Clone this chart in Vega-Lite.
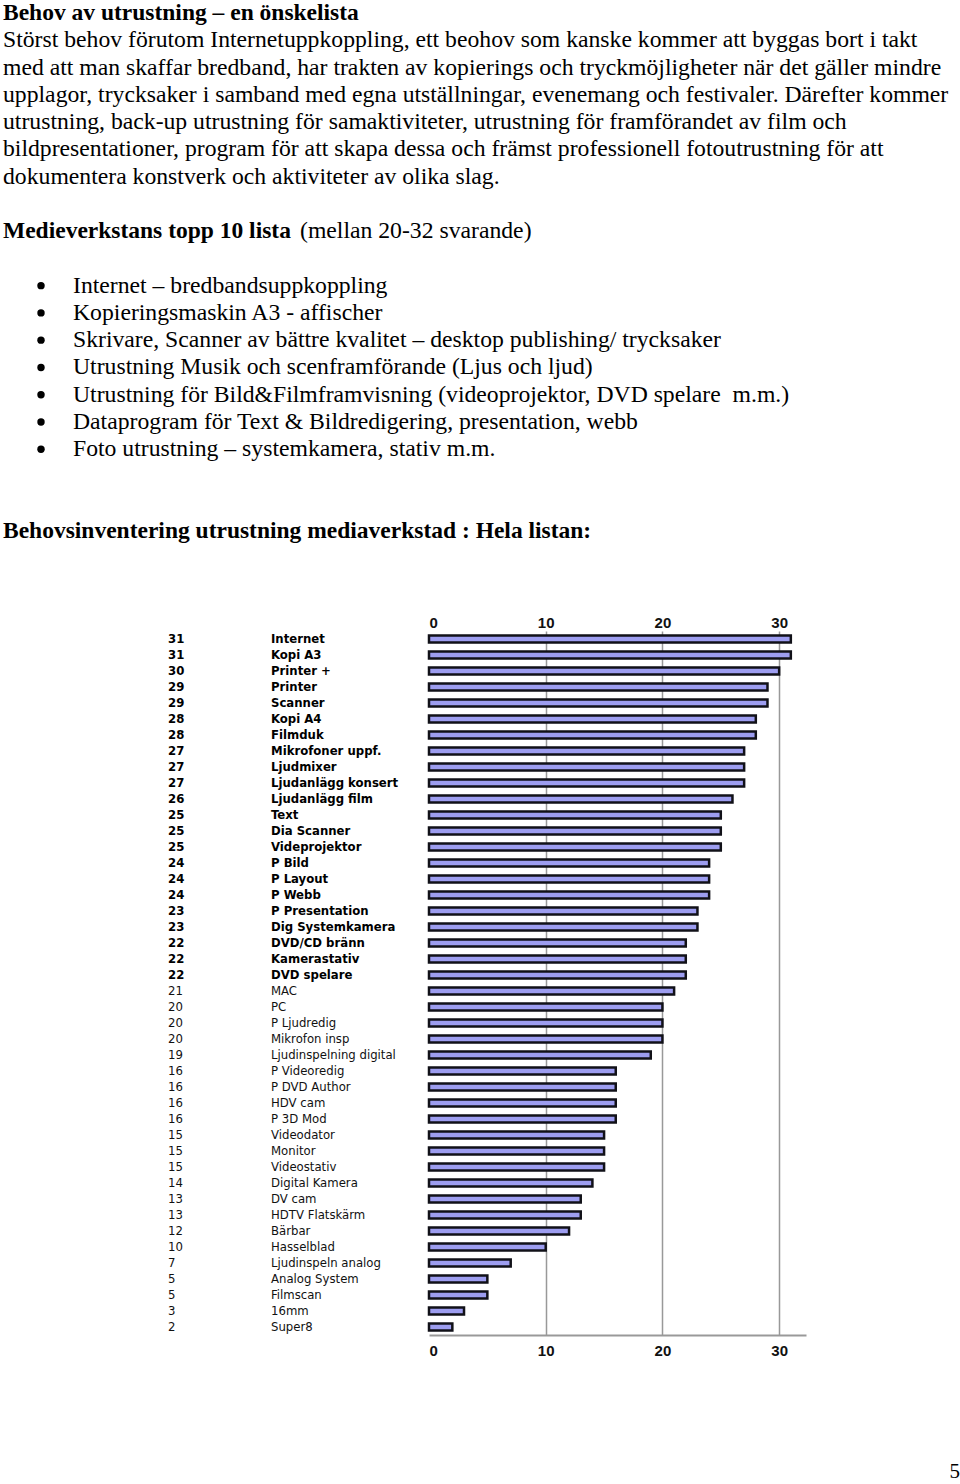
{
  "$schema": "https://vega.github.io/schema/vega-lite/v6.json",
  "background": "white",
  "padding": 0,
  "config": {"view": {"stroke": null}},
  "datasets": {
    "doc": [
      {"line": 0, "col": 0, "kind": "heading", "text": "Behov av utrustning – en önskelista"},
      {"line": 1, "col": 0, "kind": "body", "text": "Störst behov förutom Internetuppkoppling, ett beohov som kanske kommer att byggas bort i takt"},
      {"line": 2, "col": 0, "kind": "body", "text": "med att man skaffar bredband, har trakten av kopierings och tryckmöjligheter när det gäller mindre"},
      {"line": 3, "col": 0, "kind": "body", "text": "upplagor, trycksaker i samband med egna utställningar, evenemang och festivaler. Därefter kommer"},
      {"line": 4, "col": 0, "kind": "body", "text": "utrustning, back-up utrustning för samaktiviteter, utrustning för framförandet av film och"},
      {"line": 5, "col": 0, "kind": "body", "text": "bildpresentationer, program för att skapa dessa och främst professionell fotoutrustning för att"},
      {"line": 6, "col": 0, "kind": "body", "text": "dokumentera konstverk och aktiviteter av olika slag."},
      {"line": 8, "col": 0, "kind": "heading", "text": "Medieverkstans topp 10 lista"},
      {"line": 8, "col": 3, "kind": "body", "text": "(mellan 20-32 svarande)"},
      {"line": 10, "col": 2, "kind": "bullet", "text": "Internet – bredbandsuppkoppling"},
      {"line": 11, "col": 2, "kind": "bullet", "text": "Kopieringsmaskin A3 - affischer"},
      {"line": 12, "col": 2, "kind": "bullet", "text": "Skrivare, Scanner av bättre kvalitet – desktop publishing/ trycksaker"},
      {"line": 13, "col": 2, "kind": "bullet", "text": "Utrustning Musik och scenframförande (Ljus och ljud)"},
      {"line": 14, "col": 2, "kind": "bullet", "text": "Utrustning för Bild&Filmframvisning (videoprojektor, DVD spelare\u00a0 m.m.)"},
      {"line": 15, "col": 2, "kind": "bullet", "text": "Dataprogram för Text & Bildredigering, presentation, webb"},
      {"line": 16, "col": 2, "kind": "bullet", "text": "Foto utrustning – systemkamera, stativ m.m."},
      {"line": 19, "col": 0, "kind": "heading", "text": "Behovsinventering utrustning mediaverkstad : Hela listan:"}
    ],
    "items": [
      {"item": "Internet", "count": 31},
      {"item": "Kopi A3", "count": 31},
      {"item": "Printer +", "count": 30},
      {"item": "Printer", "count": 29},
      {"item": "Scanner", "count": 29},
      {"item": "Kopi A4", "count": 28},
      {"item": "Filmduk", "count": 28},
      {"item": "Mikrofoner uppf.", "count": 27},
      {"item": "Ljudmixer", "count": 27},
      {"item": "Ljudanlägg konsert", "count": 27},
      {"item": "Ljudanlägg film", "count": 26},
      {"item": "Text", "count": 25},
      {"item": "Dia Scanner", "count": 25},
      {"item": "Videprojektor", "count": 25},
      {"item": "P Bild", "count": 24},
      {"item": "P Layout", "count": 24},
      {"item": "P Webb", "count": 24},
      {"item": "P Presentation", "count": 23},
      {"item": "Dig Systemkamera", "count": 23},
      {"item": "DVD/CD bränn", "count": 22},
      {"item": "Kamerastativ", "count": 22},
      {"item": "DVD spelare", "count": 22},
      {"item": "MAC", "count": 21},
      {"item": "PC", "count": 20},
      {"item": "P Ljudredig", "count": 20},
      {"item": "Mikrofon insp", "count": 20},
      {"item": "Ljudinspelning digital", "count": 19},
      {"item": "P Videoredig", "count": 16},
      {"item": "P DVD Author", "count": 16},
      {"item": "HDV cam", "count": 16},
      {"item": "P 3D Mod", "count": 16},
      {"item": "Videodator", "count": 15},
      {"item": "Monitor", "count": 15},
      {"item": "Videostativ", "count": 15},
      {"item": "Digital Kamera", "count": 14},
      {"item": "DV cam", "count": 13},
      {"item": "HDTV Flatskärm", "count": 13},
      {"item": "Bärbar", "count": 12},
      {"item": "Hasselblad", "count": 10},
      {"item": "Ljudinspeln analog", "count": 7},
      {"item": "Analog System", "count": 5},
      {"item": "Filmscan", "count": 5},
      {"item": "16mm", "count": 3},
      {"item": "Super8", "count": 2}
    ],
    "page": [{"page": "5"}]
  },
  "vconcat": [
    {
      "width": 960,
      "height": 615,
      "data": {"name": "doc"},
      "encoding": {
        "x": {"field": "col", "type": "quantitative", "scale": {"domain": [0, 1, 2, 3], "range": [3, 41, 73, 300], "nice": false, "zero": false}, "axis": null},
        "y": {"field": "line", "type": "quantitative", "scale": {"domain": [0, 19], "range": [13, 531], "nice": false, "zero": false}, "axis": null}
      },
      "layer": [
        {
          "transform": [{"filter": "datum.kind !== 'heading'"}],
          "mark": {"type": "text", "align": "left", "baseline": "middle", "font": "Liberation Serif", "fontSize": 23.7, "fontWeight": "normal", "color": "#000"},
          "encoding": {"text": {"field": "text"}}
        },
        {
          "transform": [{"filter": "datum.kind === 'heading'"}],
          "mark": {"type": "text", "align": "left", "baseline": "middle", "font": "Liberation Serif", "fontSize": 23.5, "fontWeight": "bold", "color": "#000"},
          "encoding": {"text": {"field": "text"}}
        },
        {
          "transform": [{"filter": "datum.kind === 'bullet'"}],
          "mark": {"type": "point", "shape": "circle", "filled": true, "color": "#000", "size": 55, "opacity": 1},
          "encoding": {
            "x": {"datum": 1, "type": "quantitative"}
          }
        }
      ]
    },
    {
      "data": {"name": "items"},
      "spacing": 103,
      "bounds": "flush",
      "hconcat": [
        {
          "width": 168,
          "height": 704,
          "encoding": {
            "y": {"field": "item", "type": "nominal", "sort": null, "axis": null},
            "x": {"datum": 1, "type": "quantitative", "scale": {"domain": [0, 1]}, "axis": null},
            "text": {"field": "count"}
          },
          "layer": [
            {
              "mark": {"type": "text", "align": "left", "baseline": "middle", "font": "DejaVu Sans Condensed, Liberation Sans Narrow, DejaVu Sans", "fontSize": 13, "color": "#111"},
              "encoding": {"opacity": {"condition": {"test": "datum.count >= 22", "value": 0}, "value": 1}}
            },
            {
              "transform": [{"filter": "datum.count >= 22"}],
              "mark": {"type": "text", "align": "left", "baseline": "middle", "font": "DejaVu Sans Condensed, Liberation Sans Narrow, DejaVu Sans", "fontSize": 13, "fontWeight": "bold", "color": "#000"}
            }
          ]
        },
        {
          "width": 54.5,
          "height": 704,
          "encoding": {
            "y": {"field": "item", "type": "nominal", "sort": null, "axis": null},
            "x": {"datum": 0, "type": "quantitative", "scale": {"domain": [0, 1]}, "axis": null},
            "text": {"field": "item"}
          },
          "layer": [
            {
              "mark": {"type": "text", "align": "left", "baseline": "middle", "font": "DejaVu Sans Condensed, Liberation Sans Narrow, DejaVu Sans", "fontSize": 13, "color": "#111"},
              "encoding": {"opacity": {"condition": {"test": "datum.count >= 22", "value": 0}, "value": 1}}
            },
            {
              "transform": [{"filter": "datum.count >= 22"}],
              "mark": {"type": "text", "align": "left", "baseline": "middle", "font": "DejaVu Sans Condensed, Liberation Sans Narrow, DejaVu Sans", "fontSize": 13, "fontWeight": "bold", "color": "#000"}
            }
          ]
        },
        {
          "width": 377,
          "height": 704,
          "layer": [
            {
              "mark": {"type": "bar", "size": 7, "fill": "#9d9df0", "stroke": "#111118", "strokeWidth": 2.5},
              "encoding": {
                "y": {"field": "item", "type": "nominal", "sort": null, "axis": null, "scale": {"paddingInner": 0, "paddingOuter": 0}},
                "x": {
                  "field": "count", "type": "quantitative",
                  "scale": {"domain": [0, 32.3], "nice": false},
                  "axis": {
                    "orient": "bottom", "values": [0, 10, 20, 30], "title": null,
                    "grid": true, "gridColor": "#999", "gridWidth": 1.5,
                    "gridOpacity": {"condition": {"test": "datum.value === 0", "value": 0}, "value": 1},
                    "domainColor": "#999", "domainWidth": 2, "ticks": false, "labelPadding": 8,
                    "labelFont": "Liberation Sans", "labelFontSize": 15, "labelFontWeight": "bold", "labelColor": "#111"
                  }
                }
              }
            },
            {
              "mark": {"type": "bar", "size": 7, "opacity": 0},
              "encoding": {
                "y": {"field": "item", "type": "nominal", "sort": null, "axis": null},
                "x": {
                  "field": "count", "type": "quantitative",
                  "axis": {
                    "orient": "top", "values": [0, 10, 20, 30], "title": null,
                    "grid": false, "domain": false, "ticks": false, "labelPadding": 1,
                    "labelFont": "Liberation Sans", "labelFontSize": 15, "labelFontWeight": "bold", "labelColor": "#111"
                  }
                }
              }
            }
          ],
          "resolve": {"axis": {"x": "independent"}}
        }
      ]
    },
    {
      "width": 960,
      "height": 120,
      "data": {"name": "page"},
      "mark": {"type": "text", "align": "right", "baseline": "alphabetic", "font": "Liberation Serif", "fontSize": 21, "color": "#000"},
      "encoding": {
        "x": {"datum": 1, "type": "quantitative", "scale": {"domain": [0, 1]}, "axis": null},
        "y": {"datum": 0, "type": "quantitative", "scale": {"domain": [0, 1]}, "axis": null},
        "text": {"field": "page"}
      }
    }
  ],
  "spacing": 0
}
